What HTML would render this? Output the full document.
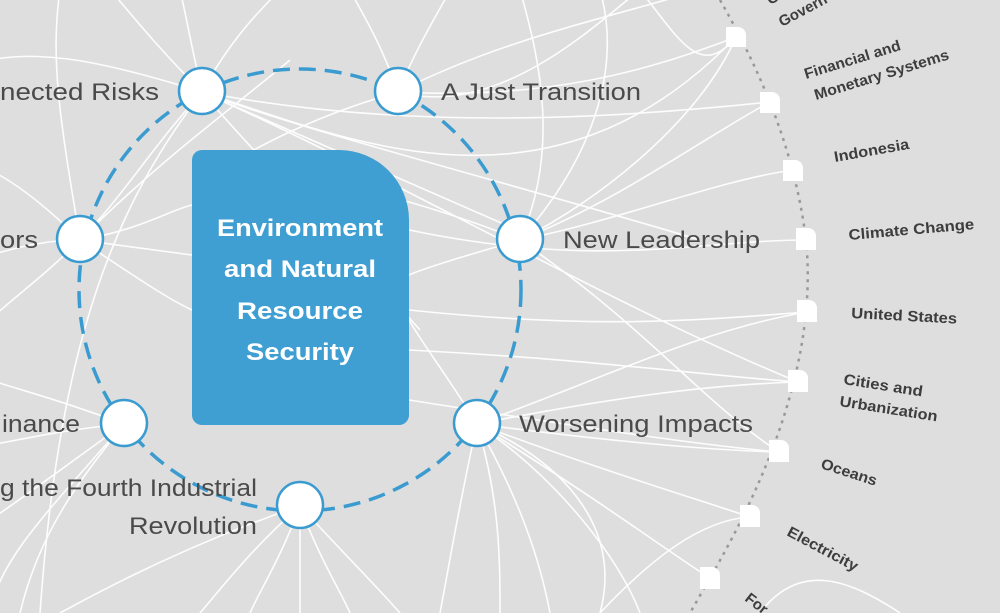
<!DOCTYPE html>
<html><head><meta charset="utf-8"><style>
html,body{margin:0;padding:0;background:#dedede;}
svg{display:block;}
.t{font-family:"Liberation Sans",sans-serif;fill:#4a4a4a;}
.r{font-family:"Liberation Sans",sans-serif;fill:#3d3d3d;font-weight:bold;font-size:15px;}
</style></head><body>
<svg width="1000" height="613" viewBox="0 0 1000 613" xmlns="http://www.w3.org/2000/svg">
<rect width="1000" height="613" fill="#dedede"/>
<g stroke="#fff" stroke-width="1.6" fill="none" opacity="0.95">
<path d="M202,92 C150,40 120,0 110,-10"/><path d="M202,92 C190,40 185,10 180,-10"/><path d="M202,92 C230,40 260,10 280,-10"/>
<path d="M202,92 C100,60 40,50 -10,60"/><path d="M202,92 C350,140 550,230 736,37"/><path d="M202,92 C400,180 600,300 798,382"/>
<path d="M202,92 C400,130 600,120 770,102"/><path d="M202,92 C150,150 120,200 80,240"/><path d="M202,92 C260,160 350,250 420,330"/>
<path d="M202,92 L540,240"/><path d="M202,92 C300,130 500,180 700,240"/><path d="M202,92 C120,200 60,330 40,613"/>
<path d="M398,92 C420,40 440,10 450,-10"/><path d="M398,92 C380,40 360,10 350,-10"/><path d="M398,92 C500,40 600,20 700,-10"/>
<path d="M398,92 C550,100 650,70 736,37"/><path d="M398,92 C300,120 230,160 192,190"/><path d="M398,92 C500,120 600,20 640,-10"/>
<path d="M520,240 C600,200 700,120 736,37"/><path d="M520,240 C620,200 700,140 770,102"/><path d="M520,240 C620,220 720,180 793,170"/>
<path d="M520,240 C600,150 620,60 600,-10"/><path d="M520,240 C560,150 540,60 520,-10"/><path d="M520,240 C450,260 420,270 409,275"/>
<path d="M520,240 C650,330 700,400 779,452"/><path d="M520,240 C420,200 300,170 192,160"/>
<path d="M80,240 C40,200 10,180 -10,170"/><path d="M80,240 C40,240 10,250 -10,255"/><path d="M80,240 C40,280 10,300 -10,320"/>
<path d="M80,240 C140,230 170,210 192,205"/><path d="M80,240 L192,255"/><path d="M80,240 C140,280 170,300 192,310"/>
<path d="M80,240 C60,120 50,60 60,-10"/><path d="M80,240 C160,160 230,110 290,60"/>
<path d="M124,424 C60,430 20,440 -10,445"/><path d="M124,424 C60,400 20,390 -10,380"/><path d="M124,424 C80,480 40,530 20,613"/>
<path d="M124,424 C60,470 20,500 -10,520"/><path d="M124,424 C40,520 0,560 -10,613"/>
<path d="M477,424 C600,440 700,450 779,452"/><path d="M477,424 C600,470 700,500 750,517"/><path d="M477,424 C600,500 680,560 710,578"/>
<path d="M477,424 C520,500 540,560 550,613"/><path d="M477,424 C500,500 500,560 500,613"/><path d="M477,424 C560,480 620,560 640,613"/>
<path d="M477,424 C600,400 700,385 798,382"/><path d="M477,424 C450,380 420,340 409,320"/><path d="M477,424 C580,470 620,540 600,613"/>
<path d="M477,424 C600,380 700,330 807,312"/><path d="M477,424 C460,500 450,560 440,613"/>
<path d="M300,506 C280,560 260,590 250,613"/><path d="M300,506 C300,560 300,590 300,613"/><path d="M300,506 C320,560 340,590 350,613"/>
<path d="M300,506 C350,560 380,590 400,613"/><path d="M300,506 C250,550 220,590 200,613"/><path d="M300,506 C200,540 120,580 60,613"/>
<path d="M409,310 C600,330 700,320 807,312"/><path d="M409,350 C600,360 700,375 798,382"/><path d="M409,400 C600,430 700,445 779,452"/>
<path d="M600,613 C650,560 700,520 750,517"/><path d="M409,230 C600,270 700,240 806,240"/>
<path d="M640,-10 C680,40 700,80 736,37"/><path d="M900,613 C850,580 800,560 760,613"/>
</g>
<path d="M720,0 C760,70 795,150 806,240 C815,330 790,440 710,578 L690,613" stroke="#999" stroke-width="2.5" stroke-dasharray="3,5" fill="none"/>
<circle cx="300" cy="290" r="221" stroke="#3a9bd0" stroke-width="3.5" stroke-dasharray="17,9" fill="none"/>
<path d="M202,150 H339 A70,70 0 0 1 409,220 V415 A10,10 0 0 1 399,425 H202 A10,10 0 0 1 192,415 V160 A10,10 0 0 1 202,150 Z" fill="#3f9fd2"/>
<g font-family="Liberation Sans, sans-serif" font-weight="bold" font-size="24" fill="#fff" text-anchor="middle" lengthAdjust="spacingAndGlyphs">
<text x="300" y="236" textLength="166" lengthAdjust="spacingAndGlyphs">Environment</text>
<text x="300" y="277" textLength="152" lengthAdjust="spacingAndGlyphs">and Natural</text>
<text x="300" y="319" textLength="126" lengthAdjust="spacingAndGlyphs">Resource</text>
<text x="300" y="360" textLength="108" lengthAdjust="spacingAndGlyphs">Security</text>
</g>
<g fill="#fff" stroke="#3a9bd0" stroke-width="2.5">
<circle cx="202" cy="91" r="23"/><circle cx="398" cy="91" r="23"/><circle cx="80" cy="239" r="23"/><circle cx="520" cy="239" r="23"/>
<circle cx="124" cy="423" r="23"/><circle cx="477" cy="423" r="23"/><circle cx="300" cy="505" r="23"/>
</g>
<g class="t" font-size="24">
<text x="0" y="100" textLength="159" lengthAdjust="spacingAndGlyphs">nected Risks</text>
<text x="441" y="100" textLength="200" lengthAdjust="spacingAndGlyphs">A Just Transition</text>
<text x="0" y="248" textLength="38" lengthAdjust="spacingAndGlyphs">ors</text>
<text x="563" y="248" textLength="197" lengthAdjust="spacingAndGlyphs">New Leadership</text>
<text x="2" y="432" textLength="78" lengthAdjust="spacingAndGlyphs">inance</text>
<text x="519" y="432" textLength="234" lengthAdjust="spacingAndGlyphs">Worsening Impacts</text>
<text x="0" y="496" textLength="257" lengthAdjust="spacingAndGlyphs">g the Fourth Industrial</text>
<text x="129" y="534" textLength="128" lengthAdjust="spacingAndGlyphs">Revolution</text>
</g>
<g fill="#fff">
<path d="M726,27 h12 a8,8 0 0 1 8,8 v12 h-20 z"/><path d="M760,92 h12 a8,8 0 0 1 8,8 v13 h-20 z"/>
<path d="M783,160 h12 a8,8 0 0 1 8,8 v13 h-20 z"/><path d="M796,228 h12 a8,8 0 0 1 8,8 v14 h-20 z"/>
<path d="M797,300 h12 a8,8 0 0 1 8,8 v14 h-20 z"/><path d="M788,370 h12 a8,8 0 0 1 8,8 v14 h-20 z"/>
<path d="M769,440 h12 a8,8 0 0 1 8,8 v14 h-20 z"/><path d="M740,505 h12 a8,8 0 0 1 8,8 v14 h-20 z"/>
<path d="M700,567 h12 a8,8 0 0 1 8,8 v14 h-20 z"/>
</g>
<g class="r">
<text transform="translate(770,5) rotate(-28)">Gl</text>
<text transform="translate(782,27) rotate(-28)">Govern</text>
<text transform="translate(806,79) rotate(-17)" textLength="100" lengthAdjust="spacingAndGlyphs">Financial and</text>
<text transform="translate(816,100) rotate(-17)" textLength="140" lengthAdjust="spacingAndGlyphs">Monetary Systems</text>
<text transform="translate(835,162) rotate(-10)" textLength="76" lengthAdjust="spacingAndGlyphs">Indonesia</text>
<text transform="translate(849,240) rotate(-5)" textLength="126" lengthAdjust="spacingAndGlyphs">Climate Change</text>
<text transform="translate(851,318) rotate(3)" textLength="106" lengthAdjust="spacingAndGlyphs">United States</text>
<text transform="translate(843,384) rotate(9)" textLength="80" lengthAdjust="spacingAndGlyphs">Cities and</text>
<text transform="translate(839,406) rotate(9)" textLength="99" lengthAdjust="spacingAndGlyphs">Urbanization</text>
<text transform="translate(820,468) rotate(18)" textLength="58" lengthAdjust="spacingAndGlyphs">Oceans</text>
<text transform="translate(786,535) rotate(28)" textLength="78" lengthAdjust="spacingAndGlyphs">Electricity</text>
<text transform="translate(744,600) rotate(38)">For</text>
</g>
</svg>
</body></html>
